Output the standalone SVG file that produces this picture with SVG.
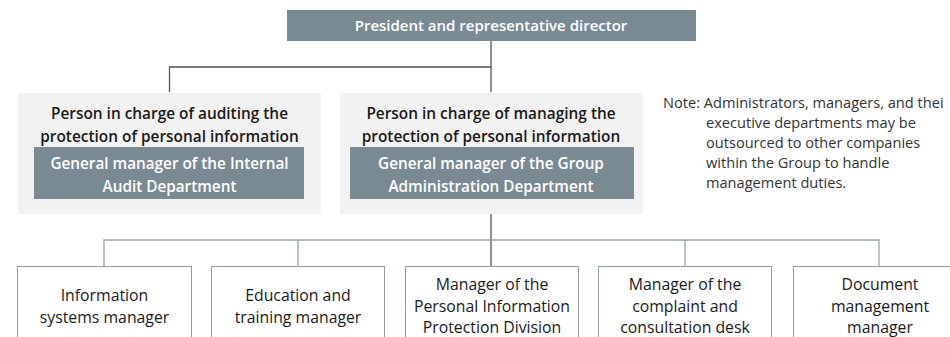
<svg xmlns="http://www.w3.org/2000/svg" width="950" height="337" viewBox="0 0 950 337">
<style>
text{font-family:"Open Sans","Noto Sans","Liberation Sans",sans-serif;text-anchor:middle;font-size:15.8px;fill:#1a1a1a}
.dark{fill:#7a8a92}
.panel{fill:#f2f2f2}
.wt{fill:#ffffff;font-weight:600;font-size:15.3px}
.bt{font-weight:600;font-size:15.4px}
.child{fill:#ffffff;stroke:#8f9ca4;stroke-width:1}
.ln{stroke:#4d555b;stroke-width:1.3;fill:none}
.bus{stroke:#95a3ab;stroke-width:1.3;fill:none}
.note{text-anchor:start;fill:#333;font-size:14.6px}
</style>
<g id="connectors">
<path class="ln" d="M491 40V67H169.5V92"/>
<path class="ln" d="M491 67V92"/>
<path class="ln" d="M491 213V266"/>
<path class="bus" d="M104 266V240H879V266M298 240V266M685 240V266"/>
</g>
<g id="president">
<rect class="dark" x="287" y="10" width="409" height="31"/>
<text class="wt" x="491" y="31" style="font-size:15px">President and representative director</text>
</g>
<g id="audit">
<rect class="panel" x="18" y="93" width="303" height="121"/>
<text class="bt" x="169.5" y="118.5">Person in charge of auditing the</text>
<text class="bt" x="169.5" y="141.5">protection of personal information</text>
<rect class="dark" x="34" y="147" width="270" height="52"/>
<text class="wt" x="169.5" y="168.5">General manager of the Internal</text>
<text class="wt" x="169.5" y="191.5">Audit Department</text>
</g>
<g id="manage">
<rect class="panel" x="340" y="93" width="303" height="121"/>
<text class="bt" x="491" y="118.5">Person in charge of managing the</text>
<text class="bt" x="491" y="141.5">protection of personal information</text>
<rect class="dark" x="350" y="147" width="284" height="52"/>
<text class="wt" x="491" y="168.5">General manager of the Group</text>
<text class="wt" x="491" y="191.5">Administration Department</text>
</g>
<g id="note">
<text class="note" x="663" y="108">Note: Administrators, managers, and thei</text>
<text class="note" x="706" y="128">executive departments may be</text>
<text class="note" x="706" y="148">outsourced to other companies</text>
<text class="note" x="706" y="168">within the Group to handle</text>
<text class="note" x="706" y="188">management duties.</text>
</g>
<g id="info-systems">
<rect class="child" x="17.5" y="266.5" width="174" height="80"/>
<text x="104.5" y="300.5">Information</text>
<text x="104.5" y="322.5">systems manager</text>
</g>
<g id="education">
<rect class="child" x="211.5" y="266.5" width="173" height="80"/>
<text x="298" y="300.5">Education and</text>
<text x="298" y="322.5">training manager</text>
</g>
<g id="pip-division">
<rect class="child" x="405.5" y="266.5" width="173" height="80"/>
<text x="492" y="290">Manager of the</text>
<text x="492" y="312">Personal Information</text>
<text x="492" y="333">Protection Division</text>
</g>
<g id="complaint">
<rect class="child" x="598.5" y="266.5" width="173" height="80"/>
<text x="685" y="290">Manager of the</text>
<text x="685" y="312">complaint and</text>
<text x="685" y="333">consultation desk</text>
</g>
<g id="document">
<rect class="child" x="793.5" y="266.5" width="174" height="80"/>
<text x="880" y="290">Document</text>
<text x="880" y="312">management</text>
<text x="880" y="333">manager</text>
</g>
</svg>
